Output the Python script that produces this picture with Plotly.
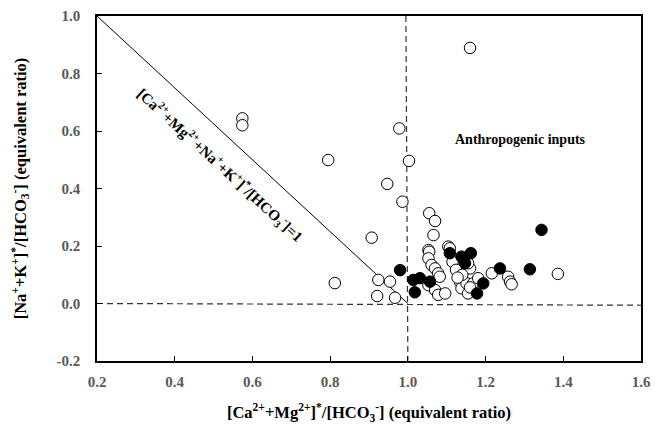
import plotly.graph_objects as go

# Open circles
open_x = [1.160, 0.574, 0.574, 0.795, 0.978, 1.003, 0.947, 0.986, 0.907, 0.812,
          0.924, 0.954, 0.921, 0.967, 1.055, 1.070, 1.066, 1.053, 1.055, 1.053,
          1.061, 1.070, 1.078, 1.082, 1.053, 1.070, 1.078, 1.096, 1.104, 1.108,
          1.115, 1.124, 1.160, 1.155, 1.134, 1.138, 1.155, 1.151, 1.168, 1.160,
          1.181, 1.216, 1.258, 1.263, 1.267, 1.386, 1.140, 1.128]
open_y = [0.889, 0.644, 0.620, 0.499, 0.609, 0.496, 0.416, 0.354, 0.229, 0.071,
          0.082, 0.076, 0.026, 0.020, 0.314, 0.287, 0.238, 0.186, 0.180, 0.157,
          0.134, 0.122, 0.105, 0.093, 0.064, 0.047, 0.030, 0.035, 0.198, 0.192,
          0.145, 0.117, 0.122, 0.140, 0.076, 0.053, 0.035, 0.070, 0.070, 0.056,
          0.088, 0.105, 0.093, 0.076, 0.067, 0.103, 0.100, 0.090]

# Filled circles
fill_x = [0.980, 1.014, 1.031, 1.057, 1.018, 1.108, 1.143, 1.162, 1.147, 1.178,
          1.194, 1.237, 1.314, 1.344, 1.138]
fill_y = [0.116, 0.082, 0.088, 0.076, 0.039, 0.175, 0.157, 0.175, 0.140, 0.035,
          0.070, 0.122, 0.119, 0.256, 0.163]

# Reference lines
line1_x = [0.2, 1.0]
line1_y = [1.0, 0.0]
hline_x = [0.2, 1.6]
hline_y = [0.0, -0.006]
vline_x = [0.995, 1.0]
vline_y = [1.0, -0.2]

x_ticks = [0.2, 0.4, 0.6, 0.8, 1.0, 1.2, 1.4, 1.6]
y_ticks = [-0.2, 0.0, 0.2, 0.4, 0.6, 0.8, 1.0]

FONT = "Liberation Serif"

fig = go.Figure()
fig.add_trace(go.Scatter(x=line1_x, y=line1_y, mode="lines",
                         line=dict(color="black", width=1), showlegend=False, hoverinfo="skip"))
fig.add_trace(go.Scatter(x=hline_x, y=hline_y, mode="lines",
                         line=dict(color="#333333", width=1.2, dash="6px,4px"), showlegend=False, hoverinfo="skip"))
fig.add_trace(go.Scatter(x=vline_x, y=vline_y, mode="lines",
                         line=dict(color="#333333", width=1.2, dash="6px,4px"), showlegend=False, hoverinfo="skip"))
fig.add_trace(go.Scatter(x=open_x, y=open_y, mode="markers",
                         marker=dict(symbol="circle", size=11.5, color="white",
                                     line=dict(color="black", width=1)),
                         showlegend=False, cliponaxis=False))
fig.add_trace(go.Scatter(x=fill_x, y=fill_y, mode="markers",
                         marker=dict(symbol="circle", size=11.5, color="black",
                                     line=dict(color="black", width=1)),
                         showlegend=False, cliponaxis=False))

fig.add_annotation(x=1.29, y=0.571, text="<b>Anthropogenic inputs</b>", showarrow=False,
                   font=dict(family=FONT, size=14, color="black"))
fig.add_annotation(x=0.517, y=0.482,
                   text="<b>[Ca<sup>2+</sup>+Mg<sup>2+</sup>+Na<sup>+</sup>+K<sup>+</sup>]<sup>*</sup>/[HCO<sub>3</sub><sup>-</sup>]=1</b>",
                   showarrow=False, textangle=42.5,
                   font=dict(family=FONT, size=15, color="black"))

fig.update_layout(
    width=662, height=427,
    margin=dict(l=97, r=21, t=16, b=66),
    paper_bgcolor="white", plot_bgcolor="white",
    font=dict(family=FONT, color="black"),
    xaxis=dict(range=[0.2, 1.6], tickvals=x_ticks, ticktext=[f"{v:.1f}" for v in x_ticks],
               showgrid=False, zeroline=False, showline=True, linecolor="black", linewidth=1.5,
               mirror=True, ticks="inside", ticklen=5, tickcolor="black", automargin=False,
               ticklabelstandoff=6,
               tickfont=dict(family=FONT, size=15, color="#595959", weight="bold"),
               title=dict(text="<b>[Ca<sup>2+</sup>+Mg<sup>2+</sup>]<sup>*</sup>/[HCO<sub>3</sub><sup>-</sup>] (equivalent ratio)</b>",
                          font=dict(family=FONT, size=16.5, color="black"), standoff=18)),
    yaxis=dict(range=[-0.2, 1.0], tickvals=y_ticks, ticktext=[f"{v:.1f}" for v in y_ticks],
               showgrid=False, zeroline=False, showline=True, linecolor="black", linewidth=1.5,
               mirror=True, ticks="inside", ticklen=5, tickcolor="black", automargin=False,
               ticklabelstandoff=12,
               tickfont=dict(family=FONT, size=15, color="#595959", weight="bold"),
               title=dict(text="<b>[Na<sup>+</sup>+K<sup>+</sup>]<sup>*</sup>/[HCO<sub>3</sub><sup>-</sup>] (equivalent ratio)</b>",
                          font=dict(family=FONT, size=16.5, color="black"), standoff=26)),
)

fig.write_html("out.html", config={"displayModeBar": False},
               post_script="document.body.style.margin='0';document.body.style.overflow='hidden';")
